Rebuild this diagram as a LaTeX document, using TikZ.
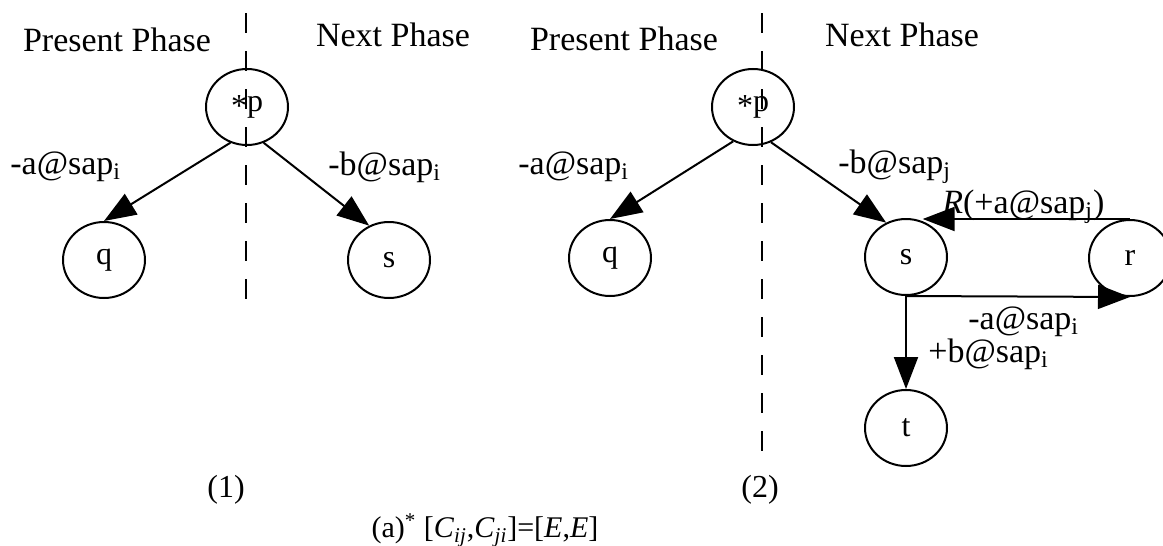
\documentclass[tikz,border=0pt]{standalone}
\usepackage{fontspec}
\setmainfont{Liberation Serif}
\usetikzlibrary{arrows.meta,positioning,shapes.geometric}

\begin{document}
\begin{tikzpicture}[
    x=0.5pt, y=-0.5pt,
    state/.style={ellipse, draw, line width=1pt, inner sep=0pt, minimum width=41pt, minimum height=38pt, font=\fontsize{16}{18}\selectfont},
    phase/.style={inner sep=0pt, font=\fontsize{17}{20}\selectfont},
    lbl/.style={anchor=west, inner sep=0pt, font=\fontsize{17}{20}\selectfont},
    capt/.style={inner sep=0pt, font=\fontsize{16}{18}\selectfont},
    divider/.style={line width=1.2pt, dash pattern=on 10pt off 9pt},
    arrow/.style={-{Triangle[length=16pt, width=12pt]}, line width=1pt}
]
    \useasboundingbox (0,0) rectangle (1163,546);

    % (1)
    \node [phase] (pp1) at (117,40) {Present Phase};
    \node [phase] (np1) at (393,35) {Next Phase};
    \coordinate (d1t) at (246,13);
    \coordinate (d1b) at (246,317);
    \draw [divider] (d1t) -- (d1b);

    \node [state] (p1) at (247,107) {\raisebox{-0.3ex}{*}p};
    \node [state] (q1) at (104,260) {q};
    \node [state] (s1) at (389,260) {s};

    \draw [arrow] (p1.-115) -- (q1.north);
    \draw [arrow] (p1.-65) -- (s1.120);
    \node [lbl] (la1) at (10,167) {-a@sap\textsubscript{i}};
    \node [lbl] (lb1) at (328,167) {-b@sap\textsubscript{i}};

    % (2)
    \node [phase] (pp2) at (624,39) {Present Phase};
    \node [phase] (np2) at (902,35) {Next Phase};
    \coordinate (d2t) at (762,13);
    \coordinate (d2b) at (762,468);
    \draw [divider] (d2t) -- (d2b);

    \node [state] (p2) at (753,107) {\raisebox{-0.3ex}{*}p};
    \node [state] (q2) at (610,258) {q};
    \node [state] (s2) at (906,257) {s};
    \node [state] (r) at (1130,258) {r};
    \node [state] (t) at (906,428) {t};

    \draw [arrow] (p2.-120) -- (q2.north);
    \draw [arrow] (p2.-63) -- (s2.120);
    \draw [arrow] (r.north) -- (r.north -| s2.65);
    \draw [arrow] (s2.south) -- (r.south);
    \draw [arrow] (s2.south) -- (t.north);

    \node [lbl] (la2) at (518,167) {-a@sap\textsubscript{i}};
    \node [lbl] (lb2) at (838,167) {-b@sap\textsubscript{j}};
    \node [lbl] (lr) at (942,207) {\textit{R}(+a@sap\textsubscript{j})};
    \node [lbl] (la3) at (968,322) {-a@sap\textsubscript{i}};
    \node [lbl] (lb3) at (928,354) {+b@sap\textsubscript{i}};

    % captions
    \node [capt] (c1) at (226,490) {(1)};
    \node [capt] (c2) at (760,490) {(2)};
    \node [capt, font=\fontsize{15}{18}\selectfont] (ca) at (485,530) {(a)\textsuperscript{*} [\textit{C}\textsubscript{\textit{ij}},\textit{C}\textsubscript{\textit{ji}}]=[\textit{E},\textit{E}]};
\end{tikzpicture}
\end{document}
